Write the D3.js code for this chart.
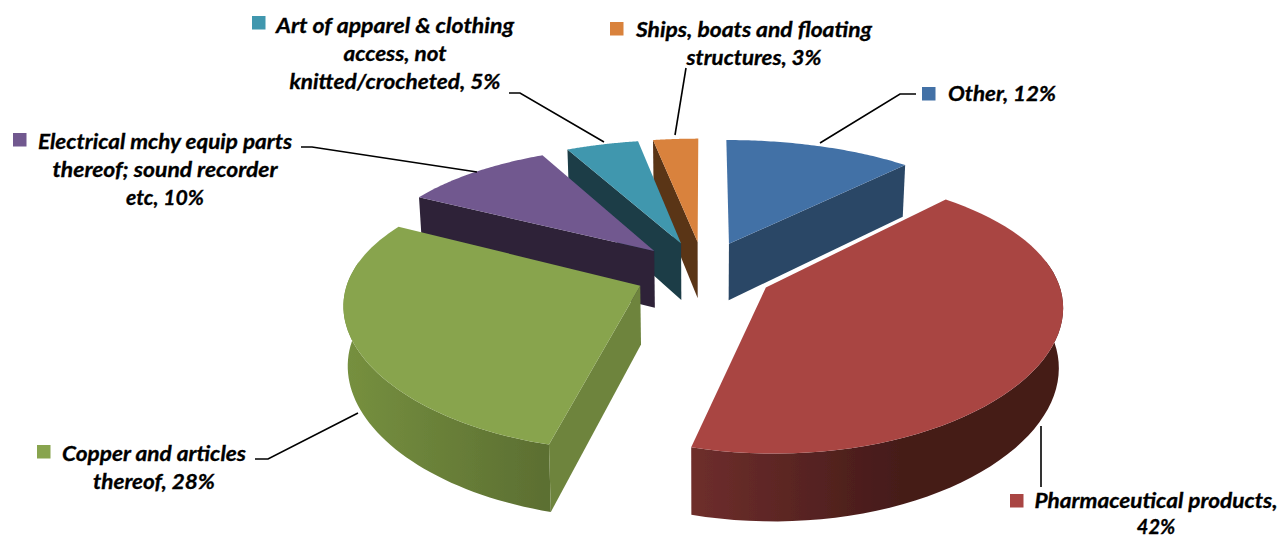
<!DOCTYPE html>
<html><head><meta charset="utf-8">
<style>html,body{margin:0;padding:0;background:#fff}svg{display:block}
text{font-family:Lato,Carlito,sans-serif;font-weight:700;font-style:italic;fill:#000;stroke:#000;stroke-width:.3;text-anchor:middle;dominant-baseline:central}</style>
<script src="https://cdn.jsdelivr.net/npm/d3@7/dist/d3.min.js"></script>
</head><body>
<svg id="c" width="1280" height="537"></svg>
<script>
// Data (clockwise from 12 o'clock)
const categories = ["Other","Pharmaceutical products","Copper and articles thereof","Electrical mchy equip parts thereof; sound recorder etc","Art of apparel & clothing access, not knitted/crocheted","Ships, boats and floating structures"];
const shares = [12,42,28,10,5,3];
const labelLines = [
  ["Other, 12%"],
  ["Pharmaceutical products,","42%"],
  ["Copper and articles","thereof, 28%"],
  ["Electrical mchy equip parts","thereof; sound recorder","etc, 10%"],
  ["Art of apparel & clothing","access, not","knitted/crocheted, 5%"],
  ["Ships, boats and floating","structures, 3%"]
];
// Styles
const topColors  = ["#4371a6","#a94543","#88a44e","#71588f","#4097ae","#d9823c"];
const faceColors = ["#2a4766","#451c1a","#6e843e","#2d2339","#1a3c46","#5a3418"];
const wallStops  = [["#2a4766","#2a4766"],["#6e2e2c","#451b19"],["#76903f","#5c6f32"],["#2d2339","#2d2339"],["#1a3c46","#1a3c46"],["#5a3418","#5a3418"]];
const wallRange  = [[727,905],[693,900],[345,545],[420,655],[570,682],[652,698]];
const drawOrder  = [5,4,3,2,0,1];
// Layout
const cx=704, cy=272, Rx=290, Ry=131, perspX=0.12, perspY=0.175, depth=58, depthPersp=0.13, explode=0.24, shrink=0.988;
const rad=Math.PI/180, warpPeak=3.3*rad, warpCentre=310*rad, warpLow=27*rad, warpHigh=20*rad;
const labelAnchors = [[1002,93],[1156,500],[154,453],[165,141],[395,25],[754,29]];
const lineGaps = [28,26,28,28,28,28];
const textWidths = [[108],[243],[184,122],[254,225,78],[238,103,211],[236,135]];
const keys = [[922,87],[1010,494],[37,445],[13,133],[252,16],[610,22]];
const keySize = 13.5;
const leaders = [
  [[916,94],[900,94],[820,143]],
  [[1041,426],[1041,487]],
  [[255,459],[268,459],[358,413]],
  [[301,147],[312,147],[477,172]],
  [[509,93],[520,93],[604,142]],
  [[686,68],[675,135]]
];

const svg=d3.select("#c");
const defs=svg.append("defs");
defs.append("filter").attr("id","soft").attr("x","-5%").attr("y","-5%").attr("width","110%").attr("height","110%")
  .append("feGaussianBlur").attr("stdDeviation",0.5);
const arcs=d3.pie().sort(null).value(d=>d).startAngle(0).endAngle(2*Math.PI)(shares);
function P(u,v,z){
  const x=cx+Rx*u/(1+perspX*v), y=cy-Ry*v/(1+perspY*v);
  if(!z) return [x,y];
  return [cx+(x-cx)*shrink, y+depth/(1+depthPersp*v)];
}
const warp=th=>th>=2*Math.PI-1e-9?th:th+warpPeak*Math.exp(-Math.pow((th-warpCentre)/(th<warpCentre?warpLow:warpHigh),2)/2);
const line=d3.line();
arcs.forEach((a,i)=>{
  const g=defs.append("linearGradient").attr("id","w"+i).attr("gradientUnits","userSpaceOnUse")
    .attr("x1",wallRange[i][0]).attr("x2",wallRange[i][1]).attr("y1",0).attr("y2",0);
  g.append("stop").attr("offset",0).attr("stop-color",wallStops[i][0]);
  g.append("stop").attr("offset",1).attr("stop-color",wallStops[i][1]);
});
const pie=svg.append("g").attr("filter","url(#soft)");
drawOrder.forEach(i=>{
  const a=arcs[i], mid=(a.startAngle+a.endAngle)/2;
  const au=explode*Math.sin(mid), av=explode*Math.cos(mid);
  const t=d3.scaleLinear().domain([0,1]).range([a.startAngle,a.endAngle]);
  const samples=d3.range(0,1.0001,1/60).map(t).map(warp);
  const point=(th,z)=>P(au+Math.sin(th),av+Math.cos(th),z);
  const rimTop=samples.map(th=>point(th,0)), rimBot=samples.map(th=>point(th,1));
  const g=pie.append("g");
  const front=samples.filter(th=>Math.cos(th)<0.2);
  if(front.length>1)
    g.append("path").attr("d",line(front.map(th=>point(th,0)).concat(front.map(th=>point(th,1)).reverse()))+"Z").attr("fill",`url(#w${i})`);
  const apT=P(au,av,0), apB=P(au,av,1);
  if(Math.sin(a.startAngle)<-1e-6)
    g.append("path").attr("d",line([apT,rimTop[0],rimBot[0],apB])+"Z").attr("fill",faceColors[i]);
  if(Math.sin(a.endAngle)>1e-6)
    g.append("path").attr("d",line([apT,rimTop[60],rimBot[60],apB])+"Z").attr("fill",faceColors[i]);
  g.append("path").attr("d",line([apT].concat(rimTop))+"Z").attr("fill",topColors[i]);
});
leaders.forEach(l=>svg.append("path").attr("d",line(l)).attr("fill","none").attr("stroke","#000").attr("stroke-width",1.6));
keys.forEach((k,i)=>svg.append("rect").attr("x",k[0]).attr("y",k[1]).attr("width",keySize).attr("height",keySize).attr("fill",topColors[i]));
labelLines.forEach((lines,i)=>{
  lines.forEach((s,j)=>{
    svg.append("text").attr("x",labelAnchors[i][0]).attr("y",labelAnchors[i][1]+j*lineGaps[i])
      .attr("font-size",20).attr("textLength",textWidths[i][j]).attr("lengthAdjust","spacingAndGlyphs").text(s);
  });
});
</script>
</body></html>
